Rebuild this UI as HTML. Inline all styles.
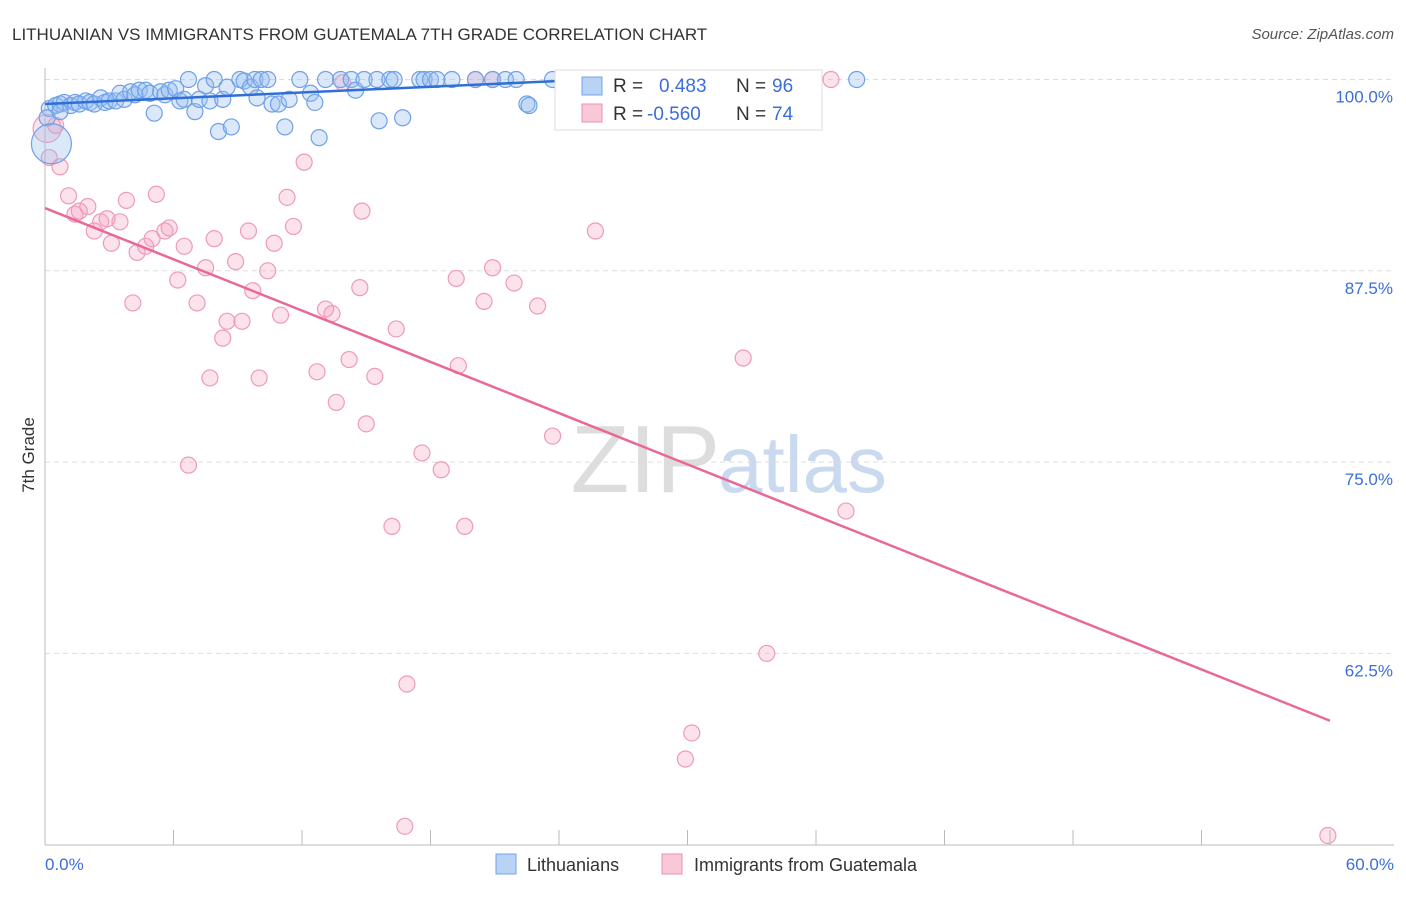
<!DOCTYPE html>
<html><head><meta charset="utf-8">
<style>
body{margin:0;background:#fff;font-family:"Liberation Sans",sans-serif;}
svg text{font-family:"Liberation Sans",sans-serif;}
</style></head>
<body>
<svg id="chart" width="1406" height="892">
<text x="12" y="40" font-size="17" fill="#333">LITHUANIAN VS IMMIGRANTS FROM GUATEMALA 7TH GRADE CORRELATION CHART</text>
<text x="1394" y="39" font-size="15" fill="#555" font-style="italic" text-anchor="end">Source: ZipAtlas.com</text>
<text x="720" y="492" font-size="96" fill="#ddd" text-anchor="end" font-family="Liberation Serif">ZIP</text>
<text x="718" y="492" font-size="80" fill="#c9daf0">atlas</text>
<g id="grid"></g><g id="axes"></g><g id="marks"></g>
<text x="34" y="455" font-size="17" fill="#333" transform="rotate(-90 34 455)" text-anchor="middle">7th Grade</text>
<g>
<rect x="555" y="70" width="267" height="60" fill="#fff" stroke="#ddd"/>
<rect x="582" y="77" width="20" height="18" fill="#b9d3f5" stroke="#6fa0e8"/>
<rect x="582" y="104" width="20" height="18" fill="#f9c8d8" stroke="#ee8fb0"/>
<text x="613" y="92" font-size="19" fill="#333">R = </text><text x="659" y="92" font-size="19" fill="#3b6fd8">0.483</text>
<text x="736" y="92" font-size="19" fill="#333">N = </text><text x="772" y="92" font-size="19" fill="#3b6fd8">96</text>
<text x="613" y="120" font-size="19" fill="#333">R = </text><text x="647" y="120" font-size="19" fill="#3b6fd8">-0.560</text>
<text x="736" y="120" font-size="19" fill="#333">N = </text><text x="772" y="120" font-size="19" fill="#3b6fd8">74</text>
</g>
<g>
<rect x="496" y="854" width="20" height="20" fill="#b9d3f5" stroke="#6fa0e8"/>
<text x="527" y="871" font-size="18" fill="#333">Lithuanians</text>
<rect x="662" y="854" width="20" height="20" fill="#f9c8d8" stroke="#ee8fb0"/>
<text x="694" y="871" font-size="18" fill="#333">Immigrants from Guatemala</text>
</g>
</svg>
<script>
const xTicks=[0,6,12,18,24,30,36,42,48,54,60];
const yTicks=[100,87.5,75,62.5];
const yTickLabels=["100.0%","87.5%","75.0%","62.5%"];
const blueTrend=[[0,98.4],[24,99.9]];
const pinkTrend=[[0,91.6],[60,58.1]];
const blueX=[0.2,0.5,0.7,0.9,1.2,1.4,1.6,1.9,2.1,2.3,2.6,2.8,3.0,3.3,3.5,3.7,4.0,4.2,4.4,4.7,4.9,5.1,5.4,5.6,5.8,6.1,6.3,6.5,6.7,7.0,7.2,7.5,7.7,7.9,8.1,8.3,8.5,8.7,9.1,9.3,9.6,9.8,9.9,10.1,10.4,10.6,10.9,11.2,11.4,11.9,12.4,12.6,12.8,13.1,13.8,14.3,14.5,14.9,15.5,15.6,16.1,16.3,16.7,17.5,17.7,18.0,18.3,19.0,20.1,20.9,21.5,22.0,22.5,22.6,23.7,25.0,25.9,26.6,27.3,32.0,32.5,35.0,37.9,0.1,0.3,0.7];
const blueY=[98.1,98.3,98.4,98.5,98.3,98.5,98.4,98.6,98.5,98.4,98.8,98.5,98.6,98.6,99.1,98.7,99.2,99.0,99.3,99.3,99.1,97.8,99.2,99.0,99.3,99.4,98.6,98.7,100,97.9,98.7,99.6,98.6,100,96.6,98.7,99.5,96.9,100,99.9,99.5,100,98.8,100,100,98.4,98.4,96.9,98.7,100,99.1,98.5,96.2,100,100,100,99.3,100,100,97.3,100,100,97.5,100,100,100,100,100,100,100,100,100,98.4,98.3,100,100,100,97.9,100,100,100,100,100,97.5,95.8,97.9];
const blueR=[8,8,8,8,8,8,8,8,8,8,8,8,8,8,8,8,8,8,8,8,8,8,8,8,8,8,8,8,8,8,8,8,8,8,8,8,8,8,8,8,8,8,8,8,8,8,8,8,8,8,8,8,8,8,8,8,8,8,8,8,8,8,8,8,8,8,8,8,8,8,8,8,8,8,8,8,8,8,8,8,8,8,8,8,20,8];
const pinkX=[0.1,0.2,0.5,0.7,1.1,1.4,1.6,2.0,2.3,2.6,2.9,3.1,3.5,3.8,4.1,4.3,4.7,5.0,5.2,5.6,5.8,6.2,6.5,6.7,7.1,7.5,7.7,7.9,8.3,8.5,8.9,9.2,9.5,9.7,10.0,10.4,10.7,11.0,11.3,11.6,12.1,12.7,13.1,13.4,13.6,13.9,14.2,14.7,14.8,15.0,15.4,16.2,16.4,16.9,16.8,17.6,18.5,19.2,19.3,19.6,20.1,20.5,20.9,20.9,21.9,23.0,23.7,25.7,29.9,30.2,32.6,33.7,36.7,37.4,59.9];
const pinkY=[96.8,94.9,97.0,94.3,92.4,91.2,91.4,91.7,90.1,90.7,90.9,89.3,90.7,92.1,85.4,88.7,89.1,89.6,92.5,90.1,90.3,86.9,89.1,74.8,85.4,87.7,80.5,89.6,83.1,84.2,88.1,84.2,90.1,86.2,80.5,87.5,89.3,84.6,92.3,90.4,94.6,80.9,85.0,84.7,78.9,99.8,81.7,86.4,91.4,77.5,80.6,70.8,83.7,60.5,51.2,75.6,74.5,87.0,81.3,70.8,100,85.5,87.7,100,86.7,85.2,76.7,90.1,55.6,57.3,81.8,62.5,100,71.8,50.6];
const pinkR=pinkX.map(()=>8);pinkR[0]=14;
const NS="http://www.w3.org/2000/svg";
const X0=45,X1=1330,Y100=79.5,PX_PER=191.3/12.5;
function sx(v){return X0+(v-0)/60*(X1-X0);}
function sy(v){return Y100+(100-v)*PX_PER;}
function mk(tag,attrs,parent){const e=document.createElementNS(NS,tag);for(const k in attrs)e.setAttribute(k,attrs[k]);document.getElementById(parent).appendChild(e);return e;}
yTicks.forEach((t,i)=>{
 const l=mk('line',{x1:X0,x2:1394,y1:sy(t),y2:sy(t),stroke:'#ddd','stroke-dasharray':'5,4'},'grid');
 
 
 const tx=mk('text',{x:1393,y:sy(t)+23,'font-size':17,fill:'#3b6fd8','text-anchor':'end'},'axes');
 tx.textContent=yTickLabels[i];
 
 
});
const ax=mk('line',{x1:X0,x2:1394,y1:845,y2:845,stroke:'#bbb'},'axes');


const ay=mk('line',{x1:X0,x2:X0,y1:68,y2:845,stroke:'#bbb'},'axes');


xTicks.forEach(t=>{
 const l=mk('line',{x1:sx(t),x2:sx(t),y1:830,y2:845,stroke:'#bbb'},'axes');
 
 
});
[[0,'0.0%','start',45],[60,'60.0%','end',1394]].forEach(a=>{
 const t=mk('text',{x:a[3],y:870,'font-size':17,fill:'#3b6fd8','text-anchor':a[2]},'axes');
 t.textContent=a[1];
 
 
});
pinkX.forEach((v,i)=>{
 const c=mk('circle',{cx:sx(v),cy:sy(pinkY[i]),r:pinkR[i],fill:'rgba(244,160,190,0.3)',stroke:'#ee9ab8','stroke-width':1.2},'marks');
 
 
});
blueX.forEach((v,i)=>{
 const c=mk('circle',{cx:sx(v),cy:sy(blueY[i]),r:blueR[i],fill:'rgba(150,190,240,0.35)',stroke:'#6fa0e8','stroke-width':1.2},'marks');
 
 
});
const bt=mk('line',{x1:sx(blueTrend[0][0]),y1:sy(blueTrend[0][1]),x2:sx(blueTrend[1][0]),y2:sy(blueTrend[1][1]),stroke:'#2f6fd6','stroke-width':2.5},'marks');


const pt=mk('line',{x1:sx(pinkTrend[0][0]),y1:sy(pinkTrend[0][1]),x2:sx(pinkTrend[1][0]),y2:sy(pinkTrend[1][1]),stroke:'#e8689a','stroke-width':2.5},'marks');


</script>
</body></html>
